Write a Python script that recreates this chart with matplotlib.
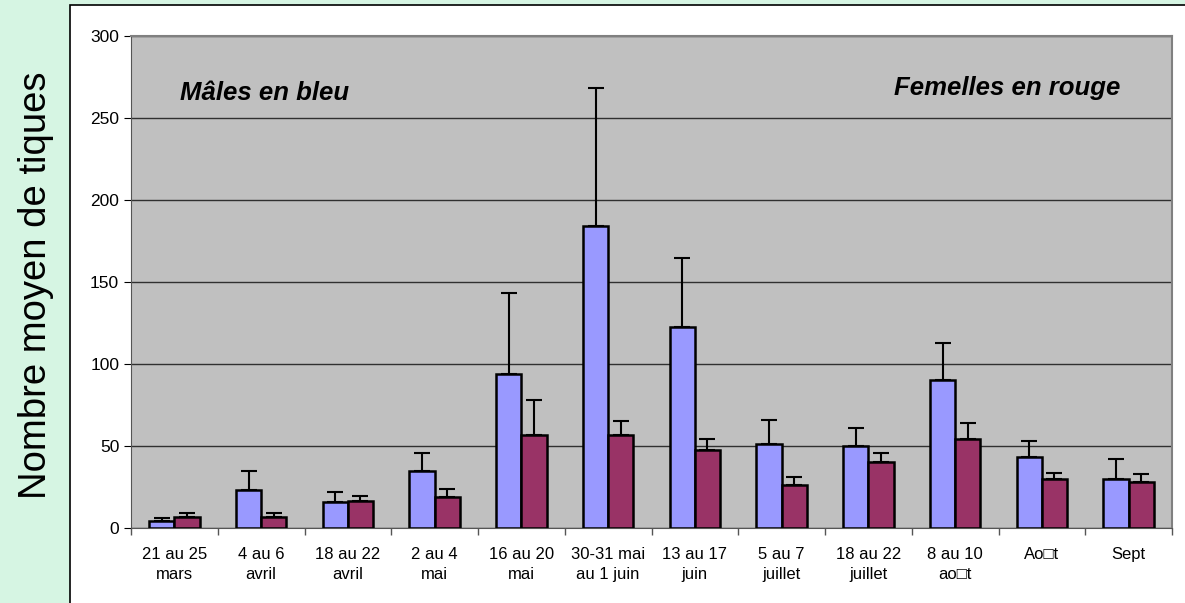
import numpy as np
import matplotlib
matplotlib.use("Agg")
from matplotlib import pyplot as plt
from matplotlib.patches import Rectangle

plt.rcParams['font.family'] = ['Liberation Sans', 'DejaVu Sans']

periodes = ["21 au 25\nmars", "4 au 6\navril", "18 au 22\navril", "2 au 4\nmai",
            "16 au 20\nmai", "30-31 mai\nau 1 juin", "13 au 17\njuin", "5 au 7\njuillet",
            "18 au 22\njuillet", "8 au 10\nao\u25a1t", "Ao\u25a1t", "Sept"]
males = [4.3, 23, 16, 35, 94, 184, 122.5, 51, 50, 90, 43, 30]
males_err = [1.7, 12, 6, 11, 49, 84, 42, 15, 11, 23, 10, 12]
femelles = [6.5, 7, 16.5, 19, 57, 57, 47.5, 26, 40, 54, 30, 28]
femelles_err = [2.5, 2, 3, 5, 21, 8, 6.5, 5, 6, 10, 3.5, 5]

fig = plt.figure(figsize=(11.85, 6.03), dpi=100)
fig.patch.set_facecolor('#d6f5e3')
fig.patches.append(Rectangle((70/1185, -0.01), 1.0, (603-5)/603 + 0.01, transform=fig.transFigure,
                             facecolor='white', edgecolor='black', linewidth=1.2, zorder=-5))

ax = fig.add_axes([131/1185, 75/603, (1172-131)/1185, (528-36)/603])
ax.set_facecolor('#c0c0c0')

x = np.arange(len(periodes))
w = 0.29
ax.bar(x - w/2, males, w, color='#9999ff', edgecolor='black', linewidth=1.8, zorder=3)
ax.bar(x + w/2, femelles, w, color='#993366', edgecolor='black', linewidth=1.8, zorder=3)
ax.errorbar(x - w/2, males, yerr=[np.zeros(len(males)), males_err], fmt='none',
            ecolor='black', elinewidth=1.5, capsize=6, capthick=1.5, zorder=2)
ax.errorbar(x + w/2, femelles, yerr=[np.zeros(len(femelles)), femelles_err], fmt='none',
            ecolor='black', elinewidth=1.5, capsize=6, capthick=1.5, zorder=2)

ax.set_xlim(-0.5, len(periodes) - 0.5)
ax.set_ylim(0, 300)
ax.set_yticks(np.arange(0, 301, 50))
ax.yaxis.grid(True, color='#303030', linewidth=1)
ax.set_axisbelow(True)
ax.set_xticks(x)
ax.set_xticklabels(periodes, fontsize=12, linespacing=1.35)
ax.set_xticks(np.arange(-0.5, len(periodes), 1), minor=True)
ax.tick_params(axis='x', which='major', length=0, pad=14)
ax.tick_params(axis='x', which='minor', length=5, width=1, color='#555555')
ax.tick_params(axis='y', length=5, labelsize=12.5)

for s in ['top', 'right']:
    ax.spines[s].set_color('#808080')
    ax.spines[s].set_linewidth(1.5)
ax.spines['left'].set_color('#555555')
ax.spines['bottom'].set_color('#555555')

ax.text(0.047, 0.884, "Mâles en bleu", transform=ax.transAxes, fontsize=18.5,
        fontweight='bold', fontstyle='italic', va='center', ha='left')
ax.text(0.950, 0.894, "Femelles en rouge", transform=ax.transAxes, fontsize=18.5,
        fontweight='bold', fontstyle='italic', va='center', ha='right')

fig.text(36/1185, 0.527, "Nombre moyen de tiques", rotation=90, fontsize=27.5,
         va='center', ha='center')

fig.savefig("out.png", dpi=100, facecolor=fig.get_facecolor())
